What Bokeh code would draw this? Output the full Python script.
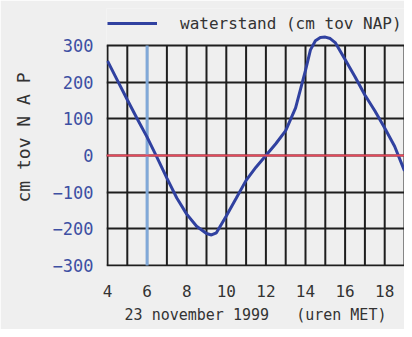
from bokeh.plotting import figure
from bokeh.models import (Range1d, FixedTicker, Span, Legend, LegendItem)
from bokeh.embed import file_html
from bokeh.resources import INLINE

# data: water level (cm tov NAP) by hour on 23 november 1999
hours = [4.0, 4.5, 5.0, 5.5, 6.0, 6.5, 7.0, 7.5, 8.0, 8.5, 9.0, 9.25, 9.5,
         10.0, 10.5, 11.0, 11.5, 12.0, 12.5, 13.0, 13.5, 14.0, 14.25, 14.5,
         14.75, 15.0, 15.25, 15.5, 16.0, 16.5, 17.0, 17.5, 18.0, 18.5, 19.0]
waterstand = [258, 205, 152, 100, 50, -5, -62, -116, -160, -193, -213, -217, -211,
              -165, -117, -68, -32, 0, 32, 68, 130, 232, 288, 313,
              322, 323, 319, 308, 262, 215, 165, 122, 75, 25, -42]
x_ticks = [4, 6, 8, 10, 12, 14, 16, 18]
x_grid = list(range(4, 20))
y_ticks = [-300, -200, -100, 0, 100, 200, 300]
marker_hour = 6
series_name = "waterstand (cm tov NAP)"

FONT = "DejaVu Sans Mono"
BG = "#efefef"
GRID = "#1e1e1e"
NB = "\u00a0"

p = figure(width=404, height=329, output_backend="svg", toolbar_location=None,
           x_range=Range1d(3.95, 19.0), y_range=Range1d(-303, 401),
           min_border_left=106, min_border_right=0, min_border_top=8,
           min_border_bottom=63)
p.background_fill_color = BG
p.border_fill_color = BG
p.outline_line_color = None

# horizontal grid lines (incl. top/bottom border at +-300)
p.ygrid.ticker = FixedTicker(ticks=y_ticks)
p.ygrid.grid_line_color = GRID
p.ygrid.grid_line_width = 2
p.ygrid.grid_line_alpha = 1.0
# vertical grid lines, limited to the -300..300 band
p.xgrid.grid_line_color = None
p.segment(x0=x_grid, y0=[y_ticks[0]] * len(x_grid),
          x1=x_grid, y1=[y_ticks[-1]] * len(x_grid),
          line_color=GRID, line_width=2)

# marker lines
p.segment(x0=[marker_hour], y0=[y_ticks[0]], x1=[marker_hour], y1=[y_ticks[-1]],
          line_color="#80a8d8", line_width=3)
p.add_layout(Span(location=0, dimension="width",
                  line_color="#e8485a", line_width=2))

line_r = p.line(hours, waterstand, line_color="#3041a0", line_width=3)

# axes
p.xaxis.ticker = FixedTicker(ticks=x_ticks)
p.yaxis.ticker = FixedTicker(ticks=y_ticks)
for ax in (p.xaxis[0], p.yaxis[0]):
    ax.axis_line_color = None
    ax.major_tick_line_color = None
    ax.minor_tick_line_color = None
    ax.major_label_text_font = FONT
    ax.axis_label_text_font = FONT
    ax.axis_label_text_font_style = "normal"
    ax.axis_label_text_color = "#333333"
p.xaxis.major_label_text_font_size = "16px"
p.yaxis.major_label_text_font_size = "17px"
p.xaxis.major_label_text_color = "#333333"
p.yaxis.major_label_text_color = "#3d4fa3"
p.xaxis.major_label_standoff = 12
p.yaxis.major_label_standoff = 7
p.xaxis.axis_label = "23 november 1999" + NB * 3 + "(uren MET)"
p.xaxis.axis_label_text_font_size = "15px"
p.xaxis.axis_label_standoff = 6
p.yaxis.axis_label = "cm tov N A P"
p.yaxis.axis_label_text_font_size = "18px"
p.yaxis.axis_label_standoff = 16

legend = Legend(items=[LegendItem(label=series_name, renderers=[line_r])],
                location=(1, 233), orientation="horizontal",
                padding=0, margin=0, spacing=0,
                glyph_width=50, glyph_height=20, label_height=20,
                label_standoff=23, border_line_color=None,
                background_fill_alpha=0,
                label_text_font=FONT, label_text_font_size="16px",
                label_text_color="#333333")
p.add_layout(legend, "center")

open("out.html", "w").write(file_html(p, INLINE))
